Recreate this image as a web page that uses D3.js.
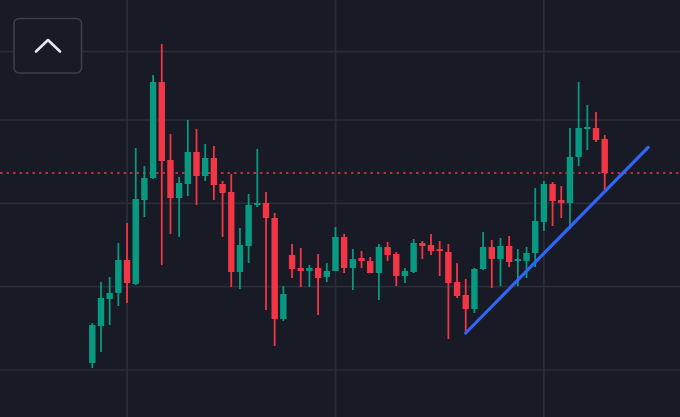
<!DOCTYPE html>
<html>
<head>
<meta charset="utf-8">
<script src="https://cdn.jsdelivr.net/npm/d3@7/dist/d3.min.js"></script>
<style>
  html, body { margin: 0; padding: 0; background: #181a26; }
  svg { display: block; }
</style>
</head>
<body>
<svg id="chart" width="680" height="417"></svg>
<script>
// ---- data ----
const opens  = [20.42,22.64,24.26,24.62,26.60,25.16,30.20,31.52,37.28,32.60,
                30.32,31.16,33.08,31.64,32.72,31.16,30.68,25.88,27.44,29.90,
                30.02,29.12,23.06,26.90,26.12,25.94,26.12,25.58,25.94,27.98,
                26.12,26.72,26.54,25.82,27.38,26.96,25.64,25.88,27.62,27.50,
                27.26,27.08,25.28,24.50,23.66,26.06,27.38,26.66,27.44,26.54,
                26.54,27.02,28.88,31.16,30.20,30.02,32.78,34.46,34.52,33.86];
const highs  = [22.82,25.28,25.58,27.62,28.82,33.32,32.24,37.70,39.56,34.16,
                31.58,35.00,34.46,33.56,33.44,31.34,31.76,28.52,30.56,33.26,
                30.68,29.42,25.04,27.56,27.32,26.30,26.96,26.42,28.58,28.16,
                27.26,27.14,26.78,27.56,27.68,27.08,26.12,27.86,27.74,28.16,
                27.74,27.56,26.42,25.46,26.12,28.28,27.80,27.92,28.04,27.26,
                27.38,30.92,31.34,31.28,31.04,34.52,37.28,35.90,35.48,34.10];
const lows   = [20.12,21.08,22.70,23.84,24.02,25.10,29.18,31.46,26.30,28.16,
                27.98,30.44,29.90,31.34,30.20,27.98,24.98,24.86,26.42,29.78,
                23.60,21.44,22.94,25.52,24.98,24.98,23.30,25.28,25.94,25.82,
                24.80,26.12,25.82,24.20,26.54,25.04,25.22,25.82,26.66,26.90,
                25.64,21.86,24.32,22.22,23.42,26.00,24.92,25.04,26.18,25.04,
                25.52,26.18,28.34,28.64,29.12,28.46,32.24,33.20,33.68,30.80];
const closes = [22.70,24.32,24.62,26.60,25.22,30.26,31.52,37.28,32.54,30.32,
                31.22,33.08,31.64,32.72,31.10,30.62,25.88,27.50,29.90,30.02,
                29.12,23.06,24.56,26.06,25.94,26.12,25.52,25.94,27.98,26.12,
                26.66,26.54,25.82,27.38,26.90,25.64,25.94,27.62,27.44,27.14,
                27.14,25.22,24.44,23.66,26.06,27.38,26.66,27.44,26.48,26.66,
                27.02,28.94,31.16,30.14,30.02,32.78,34.52,34.58,33.80,31.82];
const priceGrid = [20, 25, 30, 35, 39.1];
const timeGrid  = [4, 28, 52];
const trendIdx   = [43, 64];
const trendPrice = [22.22, 33.36];

// ---- setup ----
const W = 680, H = 417;
const svg = d3.select("#chart");
const candles = opens.map((o, i) => ({ i, o, h: highs[i], l: lows[i], c: closes[i] }));

const x = d3.scaleLinear().domain([0, candles.length - 1]).range([92.3, 604.7]);
const y = d3.scaleLinear().domain([20, 35]).range([370, 120]);

const GREEN = "#089981", RED = "#f23645";

svg.append("rect").attr("width", W).attr("height", H).attr("fill", "#181a26");

// grid
const grid = svg.append("g");
grid.selectAll("line.h").data(priceGrid).join("line")
  .attr("x1", 0).attr("x2", W)
  .attr("y1", d => y(d)).attr("y2", d => y(d))
  .attr("stroke", "#292c39").attr("stroke-width", 1.6);
grid.selectAll("line.v").data(timeGrid).join("line")
  .attr("y1", 0).attr("y2", H)
  .attr("x1", d => x(d)).attr("x2", d => x(d))
  .attr("stroke", "#292c39").attr("stroke-width", 1.8);

// last price line
const lastClose = closes[closes.length - 1];
svg.append("line")
  .attr("x1", 0).attr("x2", W)
  .attr("y1", y(lastClose)).attr("y2", y(lastClose))
  .attr("stroke", RED).attr("stroke-width", 1.6)
  .attr("stroke-dasharray", "2.5,4");

// candles
const cg = svg.append("g");
const g = cg.selectAll("g").data(candles).join("g");
g.append("line")
  .attr("x1", d => x(d.i)).attr("x2", d => x(d.i))
  .attr("y1", d => y(d.h)).attr("y2", d => y(d.l))
  .attr("stroke", d => d.c >= d.o ? GREEN : RED)
  .attr("stroke-width", 1.8);
g.append("rect")
  .attr("x", d => x(d.i) - 3.2)
  .attr("width", 6.4)
  .attr("y", d => y(Math.max(d.o, d.c)))
  .attr("height", d => Math.max(1.8, Math.abs(y(d.o) - y(d.c))))
  .attr("fill", d => d.c >= d.o ? GREEN : RED);

// trend line
svg.append("line")
  .attr("x1", x(trendIdx[0])).attr("y1", y(trendPrice[0]))
  .attr("x2", x(trendIdx[1])).attr("y2", y(trendPrice[1]))
  .attr("stroke", "#2f66f7").attr("stroke-width", 3.2)
  .attr("stroke-linecap", "round");

// collapse button
const btn = svg.append("g");
btn.append("rect")
  .attr("x", 14).attr("y", 18.5).attr("width", 67.5).attr("height", 54.5)
  .attr("rx", 5).attr("ry", 5)
  .attr("fill", "#181a26").attr("stroke", "#3c3f4b").attr("stroke-width", 1.6);
btn.append("path")
  .attr("d", "M36,51.5 L48,40 L60,51.5")
  .attr("fill", "none").attr("stroke", "#e6e7ec").attr("stroke-width", 2.6)
  .attr("stroke-linecap", "round").attr("stroke-linejoin", "round");
</script>
</body>
</html>
